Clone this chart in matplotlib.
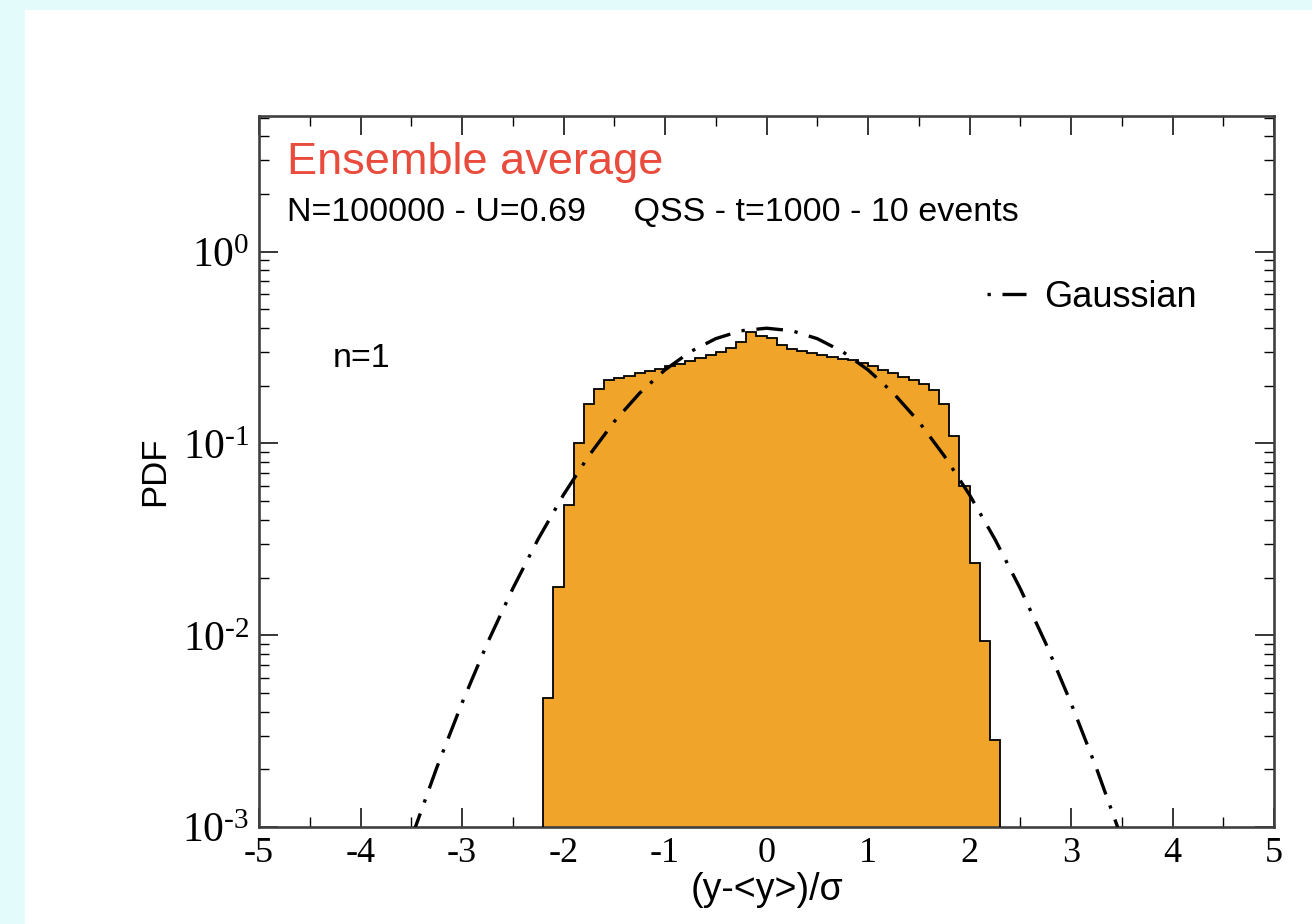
import numpy as np
import matplotlib
matplotlib.use("Agg")
import matplotlib.pyplot as plt
from matplotlib.ticker import MultipleLocator, LogLocator, NullFormatter
from matplotlib.patches import Rectangle
from matplotlib.lines import Line2D

plt.rcParams['font.family'] = ['Liberation Sans', 'DejaVu Sans']
plt.rcParams['mathtext.fontset'] = 'custom'
plt.rcParams['mathtext.rm'] = 'Liberation Serif'
plt.rcParams['mathtext.it'] = 'Liberation Serif:italic'
plt.rcParams['axes.unicode_minus'] = False

# ---- data ----
bin_edges = np.round(np.arange(-2.2, 2.3001, 0.1), 2)
pdf_values = [0.0047, 0.0178, 0.0475, 0.100, 0.161, 0.193, 0.213, 0.220, 0.226,
              0.232, 0.238, 0.245, 0.252, 0.260, 0.270, 0.280, 0.290, 0.300,
              0.315, 0.340, 0.380, 0.365, 0.355, 0.325, 0.312, 0.302, 0.295,
              0.288, 0.283, 0.277, 0.271, 0.262, 0.252, 0.242, 0.233, 0.222,
              0.214, 0.205, 0.189, 0.161, 0.110, 0.060, 0.0238, 0.0093, 0.00284]

gauss_x = [-3.5, -3.25, -3.0, -2.75, -2.5, -2.25, -2.0, -1.75, -1.5, -1.25, -1.0,
           -0.75, -0.5, -0.25, 0.0, 0.25, 0.5, 0.75, 1.0, 1.25, 1.5, 1.75, 2.0,
           2.25, 2.5, 2.75, 3.0, 3.25, 3.5]
gauss_y = [0.00087, 0.00203, 0.00443, 0.0091, 0.0175, 0.0317, 0.054, 0.0863,
           0.130, 0.183, 0.242, 0.301, 0.352, 0.387, 0.399, 0.387, 0.352, 0.301,
           0.242, 0.183, 0.130, 0.0863, 0.054, 0.0317, 0.0175, 0.0091, 0.00443,
           0.00203, 0.00087]

x_ticks = [-5, -4, -3, -2, -1, 0, 1, 2, 3, 4, 5]
y_ticks = [1e-3, 1e-2, 1e-1, 1e0]
y_ticklabels = [r'$\mathrm{10^{\text{-}3}}$', r'$\mathrm{10^{\text{-}2}}$',
                r'$\mathrm{10^{\text{-}1}}$', r'$\mathrm{10^{0}}$']

fill_color = '#f0a52a'
red = '#e94b3c'

fig = plt.figure(figsize=(13.12, 9.24), dpi=100)
fig.patch.set_facecolor('white')
fig.patches.append(Rectangle((0, 0), 25/1312, 1, transform=fig.transFigure,
                             facecolor='#e4fbfb', edgecolor='none', zorder=-10))
fig.patches.append(Rectangle((0, 1 - 10/924), 1, 10/924, transform=fig.transFigure,
                             facecolor='#e4fbfb', edgecolor='none', zorder=-10))

ax = fig.add_axes([0.19741, 0.10498, 0.77363, 0.76948])
ax.set_yscale('log')
ax.set_xlim(-5, 5)
ax.set_ylim(1e-3, 5.1)

ax.stairs(pdf_values, bin_edges, baseline=1e-5, fill=True,
          facecolor=fill_color, edgecolor='none', zorder=2)
ax.stairs(pdf_values, bin_edges, baseline=1e-5, fill=False,
          color='black', lw=1.3, zorder=3)

dash = (0, (8, 3.5, 1, 3.5))
ax.plot(gauss_x, gauss_y, color='black', lw=2.4, linestyle=dash, zorder=4)

handle = Line2D([], [], color='black', lw=2.4, linestyle=(11.5, (8, 3.5, 1, 3.5)))
ax.legend([handle], ['Gaussian'], loc='center left', bbox_to_anchor=(0.717, 0.745),
          frameon=False, fontsize=26, handlelength=1.1, handletextpad=0.5,
          borderpad=0, borderaxespad=0)

ax.text(0.0276, 0.934, 'Ensemble average', transform=ax.transAxes, color=red,
        fontsize=32.5, va='center', ha='left')
ax.text(0.0276, 0.8636, 'N=100000 - U=0.69     QSS - t=1000 - 10 events',
        transform=ax.transAxes, fontsize=24.5, va='center', ha='left')
ax.text(0.073, 0.6596, 'n=1', transform=ax.transAxes, fontsize=24.5,
        va='center', ha='left')

ax.set_xticks(x_ticks)
ax.set_xticklabels([str(v) for v in x_ticks], fontfamily='Liberation Serif', fontsize=26)
ax.xaxis.set_minor_locator(MultipleLocator(0.5))
ax.set_yticks(y_ticks)
ax.set_yticklabels(y_ticklabels, fontsize=30)
ax.yaxis.set_minor_locator(LogLocator(base=10, subs=np.arange(2, 10), numticks=20))
ax.yaxis.set_minor_formatter(NullFormatter())

ax.tick_params(which='both', direction='in', top=True, right=True, colors='black')
ax.tick_params(which='major', length=13.5, width=1.1, pad=7)
ax.tick_params(which='minor', length=7, width=1.0)
for s in ax.spines.values():
    s.set_linewidth(1.9)
    s.set_color('#404040')

ax.set_xlabel('(y-<y>)/σ', fontsize=27, labelpad=2)
ax.set_ylabel('PDF', fontsize=25, labelpad=8)

fig.savefig('out.png', dpi=100)
